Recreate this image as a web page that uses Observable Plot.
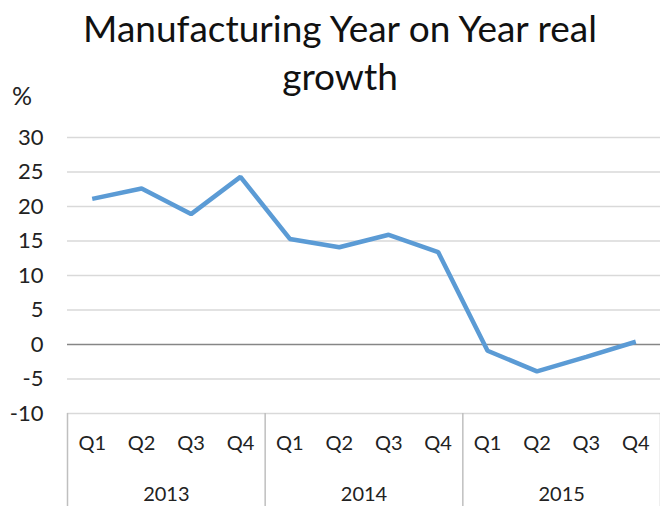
<!DOCTYPE html>
<html>
<head>
<meta charset="utf-8">
<script src="https://cdn.jsdelivr.net/npm/d3@7"></script>
<script src="https://cdn.jsdelivr.net/npm/@observablehq/plot@0.6"></script>
<style>
  body { margin: 0; background: #fff; font-family: Lato, "Open Sans", sans-serif; }
  #wrap { width: 660px; position: relative; }
  #title { height: 110px; position: relative; }
  #title .t { position: absolute; left: 20px; width: 640px; top: 4px; text-align: center; font-size: 37px; line-height: 48px; color: #111; white-space: nowrap; }
  #title .u { position: absolute; left: 12px; top: 80px; font-size: 25px; color: #222; }
</style>
</head>
<body>
<div id="wrap">
  <div id="title"><div class="t">Manufacturing Year on Year real<br>growth</div><div class="u">%</div></div>
  <div id="chart"></div>
</div>
<script>
const quarters = ["Q1","Q2","Q3","Q4","Q1","Q2","Q3","Q4","Q1","Q2","Q3","Q4"];
const years = ["2013","2014","2015"];
const values = [21.1, 22.6, 18.9, 24.3, 15.3, 14.1, 15.9, 13.4, -0.9, -3.9, -1.8, 0.4];
const yTicks = [-10, -5, 0, 5, 10, 15, 20, 25, 30];

const idx = values.map((d, i) => i);
const yearCenters = years.map((y, j) => j * 4 + 1.5);
const separators = [-0.5].concat(years.map((y, j) => j * 4 + 3.5));

const chart = Plot.plot({
  width: 660,
  height: 396,
  marginTop: 27,
  marginBottom: 93,
  marginLeft: 67,
  marginRight: 0,
  x: { domain: [-0.5, 11.5], axis: null },
  y: { domain: [-10, 30], axis: null },
  style: { fontFamily: "Lato, 'Open Sans', sans-serif", fontSize: "20px", color: "#222", background: "#fff" },
  marks: [
    Plot.gridY(yTicks.filter(d => d !== 0), { stroke: "#d9d9d9", strokeOpacity: 1, strokeWidth: 1.5 }),
    Plot.ruleY([0], { stroke: "#868686", strokeWidth: 1.5 }),
    Plot.axisY({ ticks: yTicks, tickFormat: d => String(d), tickSize: 0, tickPadding: 24, fontSize: 22, label: null }),
    Plot.axisX({ ticks: idx, tickFormat: i => quarters[i], tickSize: 0, tickPadding: 22, fontSize: 20, label: null }),
    Plot.axisX({ ticks: yearCenters, tickFormat: (d, j) => years[j], tickSize: 0, tickPadding: 73, fontSize: 20, label: null }),
    Plot.axisX({ ticks: separators, tickFormat: () => "", tickSize: 93, stroke: "#bfbfbf", strokeWidth: 1.5, label: null }),
    Plot.line(idx, { x: i => i, y: i => values[i], stroke: "#5b9bd5", strokeWidth: 4.5, strokeLinejoin: "miter", strokeLinecap: "butt" })
  ]
});
document.getElementById("chart").appendChild(chart);
</script>
</body>
</html>
